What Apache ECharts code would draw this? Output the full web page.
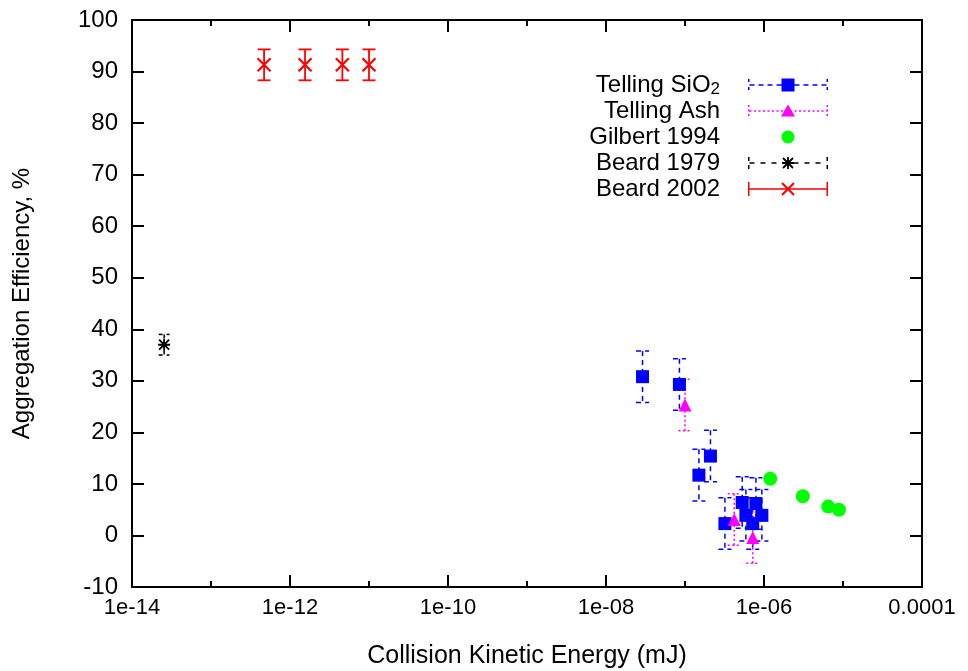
<!DOCTYPE html>
<html>
<head>
<meta charset="utf-8">
<script src="https://cdn.jsdelivr.net/npm/echarts@6.0.0/dist/echarts.min.js"></script>
<style>html,body{margin:0;padding:0;background:#fff;}#chart{width:968px;height:671px;}</style>
</head>
<body>
<div id="chart"></div>
<script>
// ---------- data ----------
const siO2X   = [2.9e-8, 8.5e-8, 1.5e-7, 2.1e-7, 3.2e-7, 5.3e-7, 7.9e-7, 5.9e-7, 9.4e-7, 7.2e-7];
const siO2Y   = [30.8, 29.3, 11.7, 15.4, 2.3, 6.4, 6.2, 3.9, 3.9, 2.3];
const siO2Err = [5, 5, 5, 5, 5, 5, 5, 5, 5, 5];

const ashX   = [1.0e-7, 4.2e-7, 7.2e-7];
const ashY   = [25.3, 3.1, -0.4];
const ashErr = [5, 5, 5];

const gilbertX = [1.2e-6, 3.1e-6, 6.5e-6, 8.9e-6];
const gilbertY = [11.0, 7.6, 5.6, 5.0];

const beard1979X   = [2.55e-14];
const beard1979Y   = [37.0];
const beard1979Err = [2];

const beard2002X   = [4.7e-13, 1.55e-12, 4.6e-12, 1.0e-11];
const beard2002Y   = [91.3, 91.3, 91.3, 91.3];
const beard2002Err = [3, 3, 3, 3];

const xTickValues  = [1e-14, 1e-12, 1e-10, 1e-8, 1e-6, 1e-4];
const xTickLabels  = ['1e-14', '1e-12', '1e-10', '1e-08', '1e-06', '0.0001'];
const xMinorTicks  = [1e-14, 1e-13, 1e-12, 1e-11, 1e-10, 1e-9, 1e-8, 1e-7, 1e-6, 1e-5, 1e-4];

const seriesNames = ['Telling SiO2', 'Telling Ash', 'Gilbert 1994', 'Beard 1979', 'Beard 2002'];

// ---------- helpers ----------
const FONT = 'Liberation Sans';
function zip3(a, b, c) { return a.map((v, i) => [v, b[i], c ? c[i] : 0]); }

function errRender(color, dash, capW, lw) {
  return function (params, api) {
    const x = api.value(0), y = api.value(1), e = api.value(2);
    const top = api.coord([x, y + e]);
    const bot = api.coord([x, y - e]);
    const h = capW / 2;
    const style = { stroke: color, lineWidth: lw, lineDash: dash, fill: null };
    return {
      type: 'group',
      children: [
        { type: 'line', shape: { x1: top[0], y1: top[1], x2: bot[0], y2: bot[1] }, style: style },
        { type: 'line', shape: { x1: top[0] - h, y1: top[1], x2: top[0] + h, y2: top[1] }, style: style },
        { type: 'line', shape: { x1: bot[0] - h, y1: bot[1], x2: bot[0] + h, y2: bot[1] }, style: style }
      ]
    };
  };
}

// legend icon path builders (filled polygons, clockwise)
function seg(x1, y1, x2, y2, w) {
  const dx = x2 - x1, dy = y2 - y1, len = Math.hypot(dx, dy) || 1;
  const nx = dy / len * w / 2, ny = -dx / len * w / 2;
  return `M${x1 + nx} ${y1 + ny}L${x2 + nx} ${y2 + ny}L${x2 - nx} ${y2 - ny}L${x1 - nx} ${y1 - ny}Z`;
}
function dashH(x1, x2, y, d, g, w) {
  let p = '';
  for (let x = x1; x < x2; x += d + g) p += seg(x, y, Math.min(x + d, x2), y, w);
  return p;
}
function dashV(x, y1, y2, d, g, w) {
  let p = '';
  for (let y = y1; y < y2; y += d + g) p += seg(x, y, x, Math.min(y + d, y2), w);
  return p;
}
const IW = 103, IH = 14, IL = 23, IR = 103, CX = (IL + IR) / 2, CY = 7;
const bounds = `M0 0L0 0M${IW} ${IH}L${IW} ${IH}`;
function capsDashed(d, g) {
  return dashV(IL + 0.75, 1, 13, d, g, 1.5) + dashV(IR - 0.75, 1, 13, d, g, 1.5);
}
const iconSiO2 = 'path://' + bounds + dashH(IL + 1.5, IR - 1.5, CY, 5, 4, 1.5) + capsDashed(3, 5) +
  seg(CX - 6.5, CY, CX + 6.5, CY, 13);
const iconAsh = 'path://' + bounds + dashH(IL + 1.5, IR - 1.5, CY, 2, 2.5, 1.5) + capsDashed(2, 2.5) +
  `M${CX} ${CY - 6.5}L${CX + 7} ${CY + 5.5}L${CX - 7} ${CY + 5.5}Z`;
const iconGilbert = 'path://' + bounds +
  `M${CX - 6.5} ${CY}A6.5 6.5 0 1 1 ${CX + 6.5} ${CY}A6.5 6.5 0 1 1 ${CX - 6.5} ${CY}Z`;
const iconB79 = 'path://' + bounds + dashH(IL + 1.5, IR - 1.5, CY, 5, 6, 1.5) + capsDashed(4, 4) +
  seg(CX - 6, CY, CX + 6, CY, 1.8) + seg(CX, CY - 6, CX, CY + 6, 1.8) +
  seg(CX - 5, CY - 5, CX + 5, CY + 5, 1.8) + seg(CX - 5, CY + 5, CX + 5, CY - 5, 1.8);
const iconB02 = 'path://' + bounds + seg(IL, CY, IR, CY, 1.5) +
  seg(IL + 0.75, 0, IL + 0.75, 14, 1.5) + seg(IR - 0.75, 0, IR - 0.75, 14, 1.5) +
  seg(CX - 6, CY - 6, CX + 6, CY + 6, 2) + seg(CX - 6, CY + 6, CX + 6, CY - 6, 2);

function fmtX(v) {
  let best = 0, bd = Infinity;
  xTickValues.forEach((t, i) => { const d = Math.abs(Math.log10(t) - Math.log10(v)); if (d < bd) { bd = d; best = i; } });
  return xTickLabels[best];
}

const axisLineStyle = { color: '#000', width: 2 };
const tickStyle = { color: '#000', width: 2 };
function xAx(pos, major, withLabel) {
  const ax = {
    type: 'log', logBase: 10, min: 1e-14, max: 1e-4, position: pos, gridIndex: 0,
    axisLine: { show: major, onZero: false, lineStyle: axisLineStyle },
    axisTick: { show: true, inside: true, length: major ? 12 : 6, lineStyle: tickStyle,
                customValues: major ? xTickValues : xMinorTicks },
    axisLabel: { show: withLabel, customValues: xTickValues, formatter: fmtX,
                 fontFamily: FONT, fontSize: 22, color: '#000', margin: 10 },
    splitLine: { show: false }, minorTick: { show: false }
  };
  if (withLabel) {
    ax.name = 'Collision Kinetic Energy (mJ)';
    ax.nameLocation = 'middle';
    ax.nameGap = 57;
    ax.nameTextStyle = { fontFamily: FONT, fontSize: 25, color: '#000' };
  }
  return ax;
}
function yAx(pos, withLabel) {
  const ax = {
    type: 'value', min: -10, max: 100, interval: 10, position: pos,
    axisLine: { show: true, onZero: false, lineStyle: axisLineStyle },
    axisTick: { show: true, inside: true, length: 12, lineStyle: tickStyle },
    axisLabel: { show: withLabel, fontFamily: FONT, fontSize: 24, color: '#000', margin: 14 },
    splitLine: { show: false }
  };
  if (withLabel) {
    ax.name = 'Aggregation Efficiency, %';
    ax.nameLocation = 'middle';
    ax.nameGap = 98;
    ax.nameTextStyle = { fontFamily: FONT, fontSize: 24, color: '#000' };
  }
  return ax;
}

const chart = echarts.init(document.getElementById('chart'), null, { renderer: 'canvas' });
const option = {
  animation: false,
  backgroundColor: '#fff',
  grid: { left: 132, right: 46, top: 20, bottom: 84, containLabel: false, outerBoundsMode: 'none' },
  xAxis: [xAx('bottom', true, true), xAx('bottom', false, false), xAx('top', true, false), xAx('top', false, false)],
  yAxis: [yAx('left', true), yAx('right', false)],
  legend: {
    orient: 'vertical', align: 'right', right: 140, top: 72, padding: 0, itemGap: 0,
    itemWidth: IW, itemHeight: IH, selectedMode: false,
    textStyle: { fontFamily: FONT, fontSize: 24, color: '#000', lineHeight: 26,
      rich: {
        n: { fontFamily: FONT, fontSize: 24, color: '#000', lineHeight: 26 },
        s: { fontFamily: FONT, fontSize: 17, color: '#000', lineHeight: 8, verticalAlign: 'bottom' }
      } },
    formatter: function (name) { return name === 'Telling SiO2' ? '{n|Telling SiO}{s|2}' : name; },
    data: [
      { name: seriesNames[0], icon: iconSiO2, itemStyle: { color: '#0000ff', borderWidth: 0, borderColor: '#0000ff', opacity: 1 } },
      { name: seriesNames[1], icon: iconAsh, itemStyle: { color: '#ff00ff', borderWidth: 0, borderColor: '#ff00ff', opacity: 1 } },
      { name: seriesNames[2], icon: iconGilbert, itemStyle: { color: '#00ff00', borderWidth: 0, borderColor: '#00ff00', opacity: 1 } },
      { name: seriesNames[3], icon: iconB79, itemStyle: { color: '#000000', borderWidth: 0, borderColor: '#000000', opacity: 1 } },
      { name: seriesNames[4], icon: iconB02, itemStyle: { color: '#ff0000', borderWidth: 0, borderColor: '#ff0000', opacity: 1 } }
    ]
  },
  series: [
    { name: seriesNames[0], type: 'custom', xAxisIndex: 0, yAxisIndex: 0, encode: { x: 0, y: 1 },
      renderItem: errRender('#0000ff', [5, 4], 13, 1.5), data: zip3(siO2X, siO2Y, siO2Err), silent: true },
    { name: seriesNames[0], type: 'scatter', symbol: 'rect', symbolSize: 13,
      itemStyle: { color: '#0000ff', opacity: 1 }, data: zip3(siO2X, siO2Y).map(d => [d[0], d[1]]) },
    { name: seriesNames[1], type: 'custom', encode: { x: 0, y: 1 },
      renderItem: errRender('#ff00ff', [2, 2.5], 13, 1.5), data: zip3(ashX, ashY, ashErr), silent: true },
    { name: seriesNames[1], type: 'scatter', symbol: 'triangle', symbolSize: 13,
      itemStyle: { color: '#ff00ff', opacity: 1 }, data: zip3(ashX, ashY).map(d => [d[0], d[1]]) },
    { name: seriesNames[2], type: 'scatter', symbol: 'circle', symbolSize: 14,
      itemStyle: { color: '#00ff00', opacity: 1 }, data: zip3(gilbertX, gilbertY).map(d => [d[0], d[1]]) },
    { name: seriesNames[3], type: 'custom', encode: { x: 0, y: 1 },
      renderItem: errRender('#000000', [4, 4], 11, 1.5), data: zip3(beard1979X, beard1979Y, beard1979Err), silent: true },
    { name: seriesNames[3], type: 'scatter', symbol: 'path://M0 6L12 6M6 0L6 12M1 1L11 11M1 11L11 1', symbolSize: 12,
      itemStyle: { color: 'rgba(0,0,0,0)', borderColor: '#000', borderWidth: 1.8, opacity: 1 },
      data: zip3(beard1979X, beard1979Y).map(d => [d[0], d[1]]) },
    { name: seriesNames[4], type: 'custom', encode: { x: 0, y: 1 },
      renderItem: errRender('#ff0000', null, 13, 1.8), data: zip3(beard2002X, beard2002Y, beard2002Err), silent: true },
    { name: seriesNames[4], type: 'scatter', symbol: 'path://M0 0L12 12M0 12L12 0', symbolSize: 13,
      itemStyle: { color: 'rgba(0,0,0,0)', borderColor: '#ff0000', borderWidth: 2.2, opacity: 1 },
      data: zip3(beard2002X, beard2002Y).map(d => [d[0], d[1]]) }
  ]
};
chart.setOption(option);
</script>
</body>
</html>
